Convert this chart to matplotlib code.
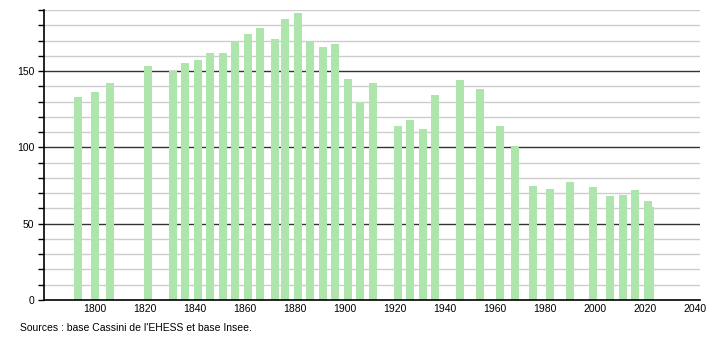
import numpy as np
import matplotlib
matplotlib.use("Agg")
import matplotlib.pyplot as plt
from matplotlib.ticker import MultipleLocator

# data
years = [1793, 1800, 1806, 1821, 1831, 1836, 1841, 1846, 1851, 1856,
         1861, 1866, 1872, 1876, 1881, 1886, 1891, 1896, 1901, 1906,
         1911, 1921, 1926, 1931, 1936, 1946, 1954, 1962, 1968, 1975,
         1982, 1990, 1999, 2006, 2011, 2016, 2021, 2022]
population = [133, 136, 142, 153, 150, 155, 157, 162, 162, 170,
              174, 178, 171, 184, 188, 169, 166, 168, 145, 130,
              142, 114, 118, 112, 134, 144, 138, 114, 101, 75,
              73, 77, 74, 68, 69, 72, 65, 61]
x_ticks = [1800, 1820, 1840, 1860, 1880, 1900, 1920, 1940, 1960, 1980, 2000, 2020, 2040]
source = "Sources : base Cassini de l'EHESS et base Insee."

plt.rcParams['font.family'] = ['Liberation Sans', 'DejaVu Sans']

fig = plt.figure(figsize=(7.1, 3.4), dpi=100)
ax = fig.add_axes([0.062, 0.1176, 0.924, 0.853])

# grid
for v in range(10, 191, 10):
    if v % 50 == 0:
        ax.axhline(v, color='#333333', lw=1.0, zorder=1)
    else:
        ax.axhline(v, color='#cdcdcd', lw=1.0, zorder=1)

# draw later years first so an earlier bar sits on top where they overlap
ax.bar(years[::-1], population[::-1], width=3.2, color='#ade5ad', zorder=2)

ax.set_xlim(1779.5, 2042)
ax.set_ylim(0, 190)
ax.set_xticks(x_ticks)
ax.yaxis.set_major_locator(MultipleLocator(50))
ax.yaxis.set_minor_locator(MultipleLocator(10))
ax.tick_params(axis='x', length=0, labelsize=7.5, pad=3)
ax.tick_params(axis='y', which='both', direction='out', length=4, width=1, labelsize=7.5, pad=3)

for s in ['top', 'right']:
    ax.spines[s].set_visible(False)
ax.spines['left'].set_linewidth(1.2)
ax.spines['bottom'].set_linewidth(1.2)

fig.text(0.028, 0.035, source, fontsize=7.5, ha='left', va='center')

fig.savefig("out.png", dpi=100)
